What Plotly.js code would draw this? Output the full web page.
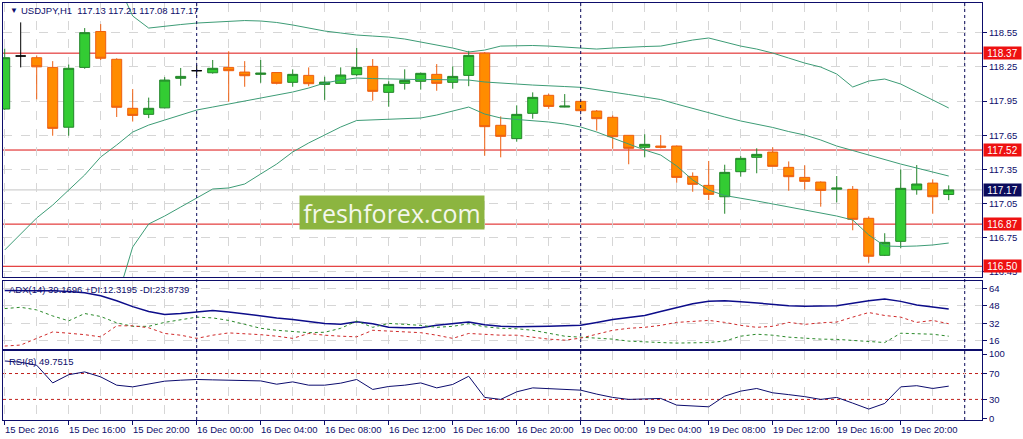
<!DOCTYPE html>
<html>
<head>
<meta charset="utf-8">
<script src="https://cdn.plot.ly/plotly-3.0.1.min.js"></script>
<style>
  html, body { margin: 0; padding: 0; background: #ffffff; }
  #chart { width: 1023px; height: 439px; }
</style>
</head>
<body>
<div id="chart"></div>
<script>
// USDJPY H1, 15 Dec 2016 12:00 -> 19 Dec 2016 23:00 (one entry per hour bar)
const symbol = "USDJPY,H1";

const timeLabels = [
  "15 Dec 2016", "15 Dec 16:00", "15 Dec 20:00", "16 Dec 00:00", "16 Dec 04:00",
  "16 Dec 08:00", "16 Dec 12:00", "16 Dec 16:00", "16 Dec 20:00", "19 Dec 00:00",
  "19 Dec 04:00", "19 Dec 08:00", "19 Dec 12:00", "19 Dec 16:00", "19 Dec 20:00",
];
const labelIdx = [0, 4, 8, 12, 16, 20, 24, 28, 32, 36, 40, 44, 48, 52, 56];
const daySeparators = [12, 36, 60];

const openP = [
  117.88, 118.345, 118.33, 118.245, 117.72, 118.245, 118.56, 118.316, 117.886, 117.833,
  117.89, 118.149, 118.216, 118.198, 118.245, 118.204, 118.184, 118.2, 118.114, 118.175,
  118.096, 118.105, 118.181, 118.254, 118.026, 118.105, 118.123, 118.184, 118.114, 118.175,
  118.37, 117.737, 117.62, 117.842, 118.0, 117.897, 117.947, 117.862, 117.807, 117.649,
  117.544, 117.555, 117.555, 117.289, 117.21, 117.11, 117.33, 117.456, 117.502, 117.368,
  117.28, 117.239, 117.176, 117.175, 116.921, 116.596, 116.719, 117.172, 117.23, 117.13,
];
const highP = [
  118.41, 118.64, 118.35, 118.30, 118.27, 118.59, 118.625, 118.325, 118.055, 117.98,
  118.16, 118.24, 118.263, 118.31, 118.386, 118.30, 118.31, 118.2, 118.228, 118.245,
  118.163, 118.245, 118.415, 118.318, 118.123, 118.228, 118.20, 118.274, 118.254, 118.39,
  118.38, 117.815, 117.912, 118.026, 118.014, 118.011, 117.95, 117.871, 117.824, 117.65,
  117.658, 117.652, 117.56, 117.324, 117.424, 117.391, 117.467, 117.535, 117.544, 117.42,
  117.386, 117.245, 117.292, 117.204, 116.938, 116.79, 117.35, 117.388, 117.263, 117.21,
];
const lowP = [
  117.87, 118.245, 117.965, 117.645, 117.645, 118.233, 118.31, 117.81, 117.77, 117.80,
  117.885, 118.084, 118.17, 118.19, 117.944, 118.075, 118.11, 118.096, 118.075, 118.08,
  117.96, 118.10, 118.17, 117.953, 117.90, 118.05, 118.05, 118.04, 118.058, 118.08,
  117.47, 117.456, 117.593, 117.795, 117.882, 117.895, 117.86, 117.69, 117.532, 117.395,
  117.456, 117.535, 117.233, 117.154, 117.081, 116.961, 117.286, 117.316, 117.377, 117.163,
  117.172, 117.023, 117.061, 116.816, 116.531, 116.59, 116.658, 117.128, 116.961, 117.08,
];
const closeP = [
  118.33, 118.345, 118.25, 117.71, 118.237, 118.55, 118.325, 117.895, 117.824, 117.886,
  118.134, 118.166, 118.216, 118.237, 118.216, 118.172, 118.195, 118.105, 118.184, 118.102,
  118.116, 118.178, 118.245, 118.035, 118.096, 118.131, 118.193, 118.105, 118.166, 118.35,
  117.725, 117.64, 117.833, 117.982, 117.903, 117.905, 117.865, 117.795, 117.637, 117.535,
  117.57, 117.544, 117.28, 117.219, 117.131, 117.324, 117.447, 117.482, 117.377, 117.286,
  117.245, 117.166, 117.187, 116.912, 116.588, 116.71, 117.184, 117.222, 117.11, 117.17,
];

// Bollinger bands (upper/lower leave the chart on the left)
const bbUpper = [
  null, null, null, null, null, null, null, 119.0, 118.696, 118.590,
  118.608, 118.621, 118.634, 118.643, 118.652, 118.656, 118.652, 118.639, 118.617, 118.590,
  118.564, 118.547, 118.529, 118.520, 118.511, 118.494, 118.468, 118.441, 118.415, 118.380,
  118.397, 118.432, 118.437, 118.437, 118.432, 118.424, 118.415, 118.406, 118.415, 118.424,
  118.428, 118.432, 118.459, 118.485, 118.503, 118.468, 118.432, 118.406, 118.371, 118.327,
  118.283, 118.248, 118.187, 118.073, 118.125, 118.143, 118.099, 118.029, 117.959, 117.889,
];
const bbMiddle = [
  116.643, 116.783, 116.924, 117.037, 117.169, 117.301, 117.459, 117.564, 117.678, 117.739,
  117.783, 117.827, 117.871, 117.897, 117.923, 117.950, 117.976, 118.002, 118.029, 118.064,
  118.108, 118.134, 118.152, 118.147, 118.143, 118.143, 118.138, 118.138, 118.134, 118.134,
  118.117, 118.105, 118.099, 118.090, 118.081, 118.077, 118.070, 118.051, 118.029, 118.007,
  117.985, 117.963, 117.923, 117.884, 117.845, 117.810, 117.775, 117.748, 117.718, 117.682,
  117.652, 117.608, 117.555, 117.516, 117.476, 117.432, 117.397, 117.362, 117.327, 117.292,
];
const bbLower = [
  null, null, null, null, null, null, null, 116.204, 116.669, 116.871,
  116.941, 117.020, 117.099, 117.178, 117.187, 117.222, 117.310, 117.397, 117.503, 117.582,
  117.652, 117.722, 117.779, 117.783, 117.788, 117.792, 117.801, 117.827, 117.862, 117.897,
  117.836, 117.801, 117.788, 117.779, 117.766, 117.748, 117.722, 117.678, 117.625, 117.573,
  117.520, 117.476, 117.380, 117.257, 117.169, 117.121, 117.099, 117.073, 117.047, 117.020,
  116.994, 116.968, 116.941, 116.906, 116.775, 116.678, 116.674, 116.678, 116.687, 116.704,
];

const levels = [118.37, 117.52, 116.87, 116.50];
const bid = 117.17;
const priceTicks = [118.55, 118.25, 117.95, 117.65, 117.35, 117.05, 116.75, 116.45];

// ADX(14) panel
const adx = [
  62.0, 61.6, 61.6, 61.6, 61.1, 59.8, 57.1, 52.6, 47.2, 42.7,
  40.0, 40.9, 42.3, 43.6, 42.3, 40.4, 38.2, 36.9, 35.5, 33.7,
  31.9, 31.0, 33.3, 31.5, 28.3, 28.0, 28.0, 30.1, 31.9, 33.1,
  30.6, 29.2, 28.8, 28.8, 29.2, 29.7, 30.1, 32.8, 35.5, 37.3,
  39.1, 42.7, 46.3, 49.9, 52.1, 52.6, 51.7, 50.3, 49.0, 48.1,
  47.6, 47.6, 48.1, 50.3, 52.6, 54.1, 52.0, 48.7, 46.6, 45.1,
];
const plusDi = [
  45.4, 46.6, 44.2, 38.7, 34.2, 40.9, 38.2, 32.4, 29.2, 29.2,
  32.8, 35.5, 37.6, 36.9, 34.6, 31.0, 27.4, 25.6, 24.3, 23.4,
  23.8, 27.4, 34.0, 28.3, 31.9, 31.0, 30.1, 28.3, 29.2, 31.6,
  28.8, 27.4, 27.0, 25.6, 22.9, 20.2, 19.3, 18.4, 17.5, 15.7,
  14.8, 14.4, 13.9, 13.9, 14.4, 15.7, 20.2, 22.0, 21.1, 19.3,
  18.4, 17.5, 17.3, 16.2, 15.7, 14.4, 22.9, 22.7, 22.0, 20.2,
];
const minusDi = [
  11.2, 12.1, 18.2, 24.1, 22.9, 21.6, 19.6, 29.7, 29.7, 27.9,
  22.7, 21.1, 18.2, 21.1, 23.2, 22.5, 21.6, 20.2, 18.2, 22.7,
  21.1, 20.2, 19.6, 25.6, 24.7, 24.1, 23.4, 21.1, 18.2, 22.7,
  22.0, 21.1, 21.1, 19.3, 17.5, 16.6, 18.4, 22.0, 25.6, 27.4,
  28.3, 30.1, 32.8, 33.7, 34.6, 32.8, 30.1, 28.3, 29.2, 32.8,
  31.0, 32.4, 33.1, 37.6, 41.8, 39.1, 37.6, 32.8, 34.6, 31.6,
];
const adxTicks = [64, 48, 32, 16];
const adxHeader = "ADX(14) 39.1696 +DI:12.3195 -DI:23.8739";

// RSI(8) panel
const rsi = [
  89.4, 87.4, 82.8, 55.5, 68.2, 72.5, 64.8, 52.0, 49.4, 53.5,
  58.2, 59.7, 60.8, 60.2, 59.7, 59.2, 58.6, 53.5, 57.1, 52.0,
  52.0, 55.1, 60.8, 45.4, 50.0, 52.0, 55.5, 47.8, 53.1, 65.8,
  33.1, 30.0, 41.7, 47.8, 46.9, 45.8, 44.3, 38.2, 33.1, 30.0,
  31.2, 31.5, 21.2, 19.7, 18.6, 35.1, 42.8, 46.9, 40.2, 37.4,
  34.3, 30.0, 33.1, 24.3, 15.1, 23.8, 49.4, 51.2, 46.9, 50.5,
];
const rsiTicks = [100, 70, 30, 0];
const rsiLevels = [70, 30];
const rsiHeader = "RSI(8) 49.7515";

const NAVY = "#0d0d6b";
const GRID = "#d6d6d6";
const FONT = '"Liberation Sans", Arial, sans-serif';
const SMALL = 9.5;

// pixel -> paper helpers for the fixed 1023x439 frame (plot area 3..982 x 3..420)
function px(x) { return (x - 3) / 979; }
function py(y) { return (420 - y) / 417; }

const idx = closeP.map((_, i) => i);

function pick(arr, keep) {
  return arr.filter((_, i) => keep(i));
}

function candleTrace(keep, incColor, incFill, decColor, decFill) {
  return {
    type: "candlestick",
    x: pick(idx, keep),
    open: pick(openP, keep),
    high: pick(highP, keep),
    low: pick(lowP, keep),
    close: pick(closeP, keep),
    xaxis: "x",
    yaxis: "y",
    whiskerwidth: 0,
    increasing: { line: { color: incColor, width: 1 }, fillcolor: incFill },
    decreasing: { line: { color: decColor, width: 1 }, fillcolor: decFill },
    hoverinfo: "skip",
    showlegend: false,
  };
}

function line(y, xa, ya, color, width, dash) {
  return {
    type: "scatter",
    mode: "lines",
    x: idx,
    y: y,
    xaxis: xa,
    yaxis: ya,
    line: { color: color, width: width, dash: dash || "solid" },
    hoverinfo: "skip",
    showlegend: false,
  };
}

const traces = [
  line(bbUpper, "x", "y", "#3d9c76", 1),
  line(bbMiddle, "x", "y", "#3d9c76", 1),
  line(bbLower, "x", "y", "#3d9c76", 1),
  candleTrace((i) => closeP[i] !== openP[i], "#23862a", "#33cc33", "#ee5f10", "#ff8c00"),
  candleTrace((i) => closeP[i] === openP[i], "#000000", "#000000", "#000000", "#000000"),
  line(adx, "x2", "y2", "#0c0c8a", 1.5),
  line(plusDi, "x2", "y2", "#2b8a2b", 1, "3px,3px"),
  line(minusDi, "x2", "y2", "#d02a2a", 1, "3px,3px"),
  line(rsi, "x3", "y3", "#0c0c6e", 1),
];

function xAxis(anchor, withTicks) {
  return {
    anchor: anchor,
    range: [-0.106, 61.08],
    showline: true,
    mirror: true,
    linecolor: NAVY,
    linewidth: 1,
    zeroline: false,
    tickmode: "array",
    tickvals: labelIdx,
    showticklabels: false,
    ticks: withTicks ? "outside" : "",
    ticklen: 4,
    tickcolor: NAVY,
    showgrid: true,
    gridcolor: GRID,
    griddash: "dash",
    minor: {
      tickmode: "linear",
      tick0: 0,
      dtick: 2,
      ticks: "",
      showgrid: true,
      gridcolor: GRID,
      griddash: "dash",
    },
    fixedrange: true,
  };
}

function yAxis(anchor, domain, range, tickvals, ticktext, grid) {
  return {
    anchor: anchor,
    domain: domain,
    range: range,
    side: "right",
    showline: true,
    mirror: true,
    linecolor: NAVY,
    linewidth: 1,
    zeroline: false,
    tickmode: "array",
    tickvals: tickvals,
    ticktext: ticktext,
    ticks: "outside",
    ticklen: 4,
    tickcolor: NAVY,
    tickfont: { size: SMALL, color: NAVY, family: FONT },
    showgrid: grid,
    gridcolor: GRID,
    griddash: "dash",
    fixedrange: true,
  };
}

const shapes = [];
levels.forEach((v) => {
  shapes.push({
    type: "line", xref: "x domain", yref: "y", x0: 0, x1: 1, y0: v, y1: v,
    line: { color: "#dd1111", width: 1 }, layer: "below",
  });
});
shapes.push({
  type: "line", xref: "x domain", yref: "y", x0: 0, x1: 1, y0: bid, y1: bid,
  line: { color: "#c4c4c4", width: 1 }, layer: "below",
});
rsiLevels.forEach((v) => {
  shapes.push({
    type: "line", xref: "x3 domain", yref: "y3", x0: 0, x1: 1, y0: v, y1: v,
    line: { color: "#c0201c", width: 1, dash: "3px,3px" }, layer: "below",
  });
});
daySeparators.forEach((d) => {
  shapes.push({
    type: "line", xref: "x", yref: "paper", x0: d, x1: d, y0: 0, y1: 1,
    line: { color: "#0a0a5a", width: 1, dash: "3px,3px" },
  });
});

const annotations = [];
// x-axis labels start at their tick (MetaTrader style)
timeLabels.forEach((t, i) => {
  annotations.push({
    xref: "x3", yref: "paper", x: labelIdx[i], y: 0,
    xanchor: "left", yanchor: "top", xshift: -1, yshift: -3,
    text: t, showarrow: false, borderpad: 0,
    font: { size: SMALL, color: NAVY, family: FONT },
  });
});
// price boxes on the right scale
levels.forEach((v) => {
  annotations.push({
    xref: "paper", yref: "y", x: 1, y: v, xanchor: "left", yanchor: "middle", xshift: 1,
    text: v.toFixed(2), showarrow: false, bgcolor: "#ee1111", width: 37, height: 12,
    borderpad: 0, font: { size: 10, color: "#ffffff", family: FONT },
  });
});
annotations.push({
  xref: "paper", yref: "y", x: 1, y: bid, xanchor: "left", yanchor: "middle", xshift: 1,
  text: bid.toFixed(2), showarrow: false, bgcolor: "#0b0b5c", width: 37, height: 12,
  borderpad: 0, font: { size: 10, color: "#ffffff", family: FONT },
});
// panel headers
const last = closeP.length - 1;
annotations.push({
  xref: "paper", yref: "paper", x: px(8), y: py(11), xanchor: "left", yanchor: "middle",
  text: "▼", showarrow: false, font: { size: 8, color: NAVY, family: FONT },
});
annotations.push({
  xref: "paper", yref: "paper", x: px(19), y: py(11), xanchor: "left", yanchor: "middle",
  text: symbol + "  " + [openP[last], highP[last], lowP[last], closeP[last]].map((v) => v.toFixed(2)).join(" "),
  showarrow: false, font: { size: SMALL, color: NAVY, family: FONT },
});
annotations.push({
  xref: "paper", yref: "paper", x: px(7), y: py(289), xanchor: "left", yanchor: "middle",
  text: adxHeader, showarrow: false, font: { size: SMALL, color: NAVY, family: FONT },
});
annotations.push({
  xref: "paper", yref: "paper", x: px(7), y: py(361), xanchor: "left", yanchor: "middle",
  text: rsiHeader, showarrow: false, font: { size: SMALL, color: NAVY, family: FONT },
});
// watermark
annotations.push({
  xref: "paper", yref: "paper", x: px(299), y: py(195), xanchor: "left", yanchor: "top",
  text: "freshforex.com", showarrow: false, bgcolor: "#8cb540", width: 184, height: 33,
  borderpad: 0, font: { size: 25, color: "#f4f7ec", family: '"Open Sans", sans-serif' },
});

const layout = {
  width: 1023,
  height: 439,
  margin: { l: 3, r: 41, t: 3, b: 19 },
  paper_bgcolor: "#ffffff",
  plot_bgcolor: "#ffffff",
  font: { family: FONT, size: SMALL, color: NAVY },
  showlegend: false,
  hovermode: false,
  boxgap: 0.375,
  boxgroupgap: 0,
  xaxis: Object.assign(xAxis("y", false), { rangeslider: { visible: false } }),
  xaxis2: Object.assign(xAxis("y2", false), { matches: "x" }),
  xaxis3: Object.assign(xAxis("y3", true), { matches: "x" }),
  yaxis: yAxis("x", [py(277), 1], [116.406, 118.81], priceTicks, priceTicks.map((v) => v.toFixed(2)), true),
  yaxis2: yAxis("x2", [py(349), py(281)], [8.5, 70.6], adxTicks, adxTicks.map(String), true),
  yaxis3: yAxis("x3", [0, py(351)], [-1.8, 104.8], rsiTicks, rsiTicks.map(String), false),
  shapes: shapes,
  annotations: annotations,
};

Plotly.newPlot("chart", traces, layout, { displayModeBar: false, staticPlot: true });
</script>
</body>
</html>
